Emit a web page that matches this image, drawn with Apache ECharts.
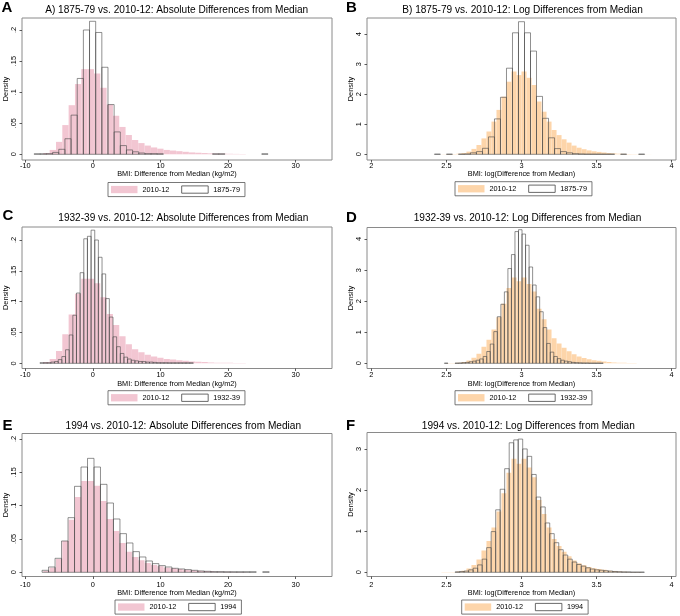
<!DOCTYPE html>
<html>
<head>
<meta charset="utf-8">
<script src="https://cdn.jsdelivr.net/npm/echarts@6/dist/echarts.min.js"></script>
<style>
html, body { margin: 0; padding: 0; background: #fff; }
#main { width: 680px; height: 616px; }
</style>
</head>
<body>
<div id="main"></div>
<script>
// histogram data: first bin left edge, bin width, densities per bin

// 2010-12, absolute differences (same in A, C, E)
var abs2010Start = -7.336, abs2010Width = 0.936;
var abs2010 = [0.002, 0.007, 0.020, 0.047, 0.079, 0.113, 0.137, 0.137, 0.130, 0.107,
  0.080, 0.062, 0.044, 0.031, 0.023, 0.018, 0.014, 0.011, 0.009, 0.007,
  0.006, 0.005, 0.004, 0.003, 0.0025, 0.002, 0.0015, 0.001, 0.001, 0.0008, 0.0006, 0.0005];

// 1875-79, absolute
var abs1875Start = -8.69, abs1875Width = 0.91;
var abs1875 = [0.0008, 0.0008, 0.001, 0.003, 0.008, 0.025, 0.063, 0.122, 0.200, 0.214,
  0.196, 0.140, 0.080, 0.036, 0.014, 0.007, 0.004, 0.002, 0.001, 0.001,
  0.0008, 0, 0, 0, 0, 0, 0, 0, 0, 0.0008, 0.0008, 0, 0, 0, 0, 0, 0, 0.0008];

// 1932-39, absolute
var abs1932Start = -7.83, abs1932Width = 0.54;
var abs1932 = [0.001, 0.001, 0.001, 0.002, 0.003, 0.006, 0.011, 0.022, 0.046, 0.078,
  0.114, 0.147, 0.202, 0.206, 0.216, 0.200, 0.172, 0.145, 0.105, 0.075,
  0.043, 0.027, 0.016, 0.010, 0.007, 0.005, 0.004, 0.003, 0.003, 0.002,
  0.002, 0.0015, 0.001, 0.001, 0.001, 0.0008, 0.0008, 0.0008, 0.0008, 0.0008, 0.0008, 0.0008];

// 1994, absolute
var abs1994Start = -7.52, abs1994Width = 0.96;
var abs1994 = [0.003, 0.008, 0.021, 0.047, 0.082, 0.129, 0.158, 0.171, 0.158, 0.132,
  0.104, 0.080, 0.058, 0.044, 0.031, 0.023, 0.017, 0.013, 0.010, 0.008,
  0.006, 0.005, 0.004, 0.003, 0.002, 0.0015, 0.001, 0.001, 0.0008, 0.0008,
  0.0008, 0.0008, 0.0008, 0, 0.0008];

// 2010-12, log differences (same in B, D, F)
var log2010Start = 2.4667, log2010Width = 1 / 30;
var log2010 = [0.005, 0.01, 0.01, 0.02, 0.04, 0.09, 0.18, 0.31, 0.53, 0.76,
  1.09, 1.48, 1.92, 2.42, 2.76, 2.64, 2.76, 2.55, 2.31, 1.76,
  1.42, 1.09, 0.81, 0.64, 0.50, 0.39, 0.29, 0.22, 0.17, 0.13,
  0.10, 0.08, 0.06, 0.04, 0.03, 0.02, 0.015, 0.01, 0.007, 0.005, 0.003, 0.002];

// 1875-79, log
var log1875Start = 2.42, log1875Width = 0.04;
var log1875 = [0.005, 0, 0.005, 0, 0.005, 0.01, 0.05, 0.09, 0.20, 0.58,
  1.18, 1.90, 2.87, 4.05, 4.42, 4.05, 3.44, 1.93, 1.20, 0.55,
  0.19, 0.09, 0.05, 0.02, 0.01, 0.005, 0.005, 0.005, 0.005, 0.005,
  0, 0.005, 0, 0, 0.005];

// 1932-39, log
var log1932Start = 2.4865, log1932Width = 0.0235;
var log1932 = [0.005, 0, 0, 0.005, 0.01, 0.02, 0.03, 0.05, 0.07, 0.10,
  0.14, 0.22, 0.38, 0.62, 1.02, 1.50, 1.90, 2.30, 3.05, 3.50,
  4.24, 4.30, 4.16, 3.80, 3.10, 2.52, 2.14, 1.66, 1.15, 0.64,
  0.36, 0.22, 0.15, 0.10, 0.07, 0.05, 0.03, 0.02, 0.015, 0.01,
  0.01, 0.005, 0.005, 0.005, 0.005];

// 1994, log
var log1994Start = 2.558, log1994Width = 0.03;
var log1994 = [0.01, 0.02, 0.03, 0.06, 0.10, 0.18, 0.32, 0.60, 0.99, 1.52,
  2.02, 2.52, 3.15, 3.22, 3.24, 3.00, 2.82, 2.38, 1.83, 1.59,
  1.20, 0.94, 0.72, 0.55, 0.42, 0.32, 0.25, 0.19, 0.15, 0.11,
  0.08, 0.06, 0.05, 0.04, 0.03, 0.02, 0.015, 0.01, 0.01, 0.005, 0.005, 0.005];

// tick labels
var absXTicks = [-10, 0, 10, 20, 30];
var logXTicks = [2, 2.5, 3, 3.5, 4];
var absYTicks = [0, 0.05, 0.1, 0.15, 0.2];
var logYTicks = [0, 1, 2, 3, 4];
var logYTicksF = [0, 1, 2, 3];

var FONT = '"Liberation Sans", Arial, Helvetica, sans-serif';
var PINK = '#f2c6d2', ORANGE = '#fdd5aa', LINE = '#474747';

function bins(start, width, heights) {
  return heights.map(function (h, i) {
    return [start + i * width, start + (i + 1) * width, h];
  });
}

function barRenderer(style) {
  return function (params, api) {
    var h = api.value(2);
    if (!h) return null;
    var p0 = api.coord([api.value(0), h]);
    var p1 = api.coord([api.value(1), 0]);
    return {
      type: 'rect',
      shape: { x: p0[0], y: p0[1], width: p1[0] - p0[0], height: p1[1] - p0[1] },
      style: style
    };
  };
}

var panels = [
  { letter: 'A', title: 'A) 1875-79 vs. 2010-12: Absolute Differences from Median', tx: 176.7, ty: 3.8, lx: 1.5, ly: 0.5,
    grid: { left: 22, top: 18, width: 310, height: 142 }, xr: [-10.49, 35.37], yr: [-0.0092, 0.2193],
    xt: absXTicks, yt: absYTicks, xname: 'BMI: Difference from Median (kg/m2)', lm: 2.6, ng: 10,
    fill: PINK, fillData: bins(abs2010Start, abs2010Width, abs2010), other: '1875-79', otherData: bins(abs1875Start, abs1875Width, abs1875),
    leg: { left: 108, top: 182.5 } },
  { letter: 'B', title: 'B) 1875-79 vs. 2010-12: Log Differences from Median', tx: 522.5, ty: 3.8, lx: 346, ly: 0.5,
    grid: { left: 367, top: 18, width: 309, height: 142 }, xr: [1.971, 4.029], yr: [-0.19, 4.543],
    xt: logXTicks, yt: logYTicks, xname: 'BMI: log(Difference from Median)', lm: 2.6, ng: 10,
    fill: ORANGE, fillData: bins(log2010Start, log2010Width, log2010), other: '1875-79', otherData: bins(log1875Start, log1875Width, log1875),
    leg: { left: 455, top: 181.7 } },
  { letter: 'C', title: '1932-39 vs. 2010-12: Absolute Differences from Median', tx: 183.3, ty: 212, lx: 2.5, ly: 208,
    grid: { left: 22, top: 227, width: 310, height: 141.5 }, xr: [-10.49, 35.37], yr: [-0.0084, 0.2211],
    xt: absXTicks, yt: absYTicks, xname: 'BMI: Difference from Median (kg/m2)', lm: 3.4, ng: 11.5,
    fill: PINK, fillData: bins(abs2010Start, abs2010Width, abs2010), other: '1932-39', otherData: bins(abs1932Start, abs1932Width, abs1932),
    leg: { left: 108, top: 390.7 } },
  { letter: 'D', title: '1932-39 vs. 2010-12: Log Differences from Median', tx: 527.5, ty: 212, lx: 346, ly: 210,
    grid: { left: 367, top: 227.5, width: 309, height: 141 }, xr: [1.971, 4.029], yr: [-0.167, 4.371],
    xt: logXTicks, yt: logYTicks, xname: 'BMI: log(Difference from Median)', lm: 3.4, ng: 11.5,
    fill: ORANGE, fillData: bins(log2010Start, log2010Width, log2010), other: '1932-39', otherData: bins(log1932Start, log1932Width, log1932),
    leg: { left: 455, top: 390.7 } },
  { letter: 'E', title: '1994 vs. 2010-12: Absolute Differences from Median', tx: 183.3, ty: 420.5, lx: 2.5, ly: 418,
    grid: { left: 22, top: 433.5, width: 310, height: 143 }, xr: [-10.49, 35.37], yr: [-0.0063, 0.2083],
    xt: absXTicks, yt: absYTicks, xname: 'BMI: Difference from Median (kg/m2)', lm: 4.8, ng: 11.8,
    fill: PINK, fillData: bins(abs2010Start, abs2010Width, abs2010), other: '1994', otherData: bins(abs1994Start, abs1994Width, abs1994),
    leg: { left: 115, top: 600 } },
  { letter: 'F', title: '1994 vs. 2010-12: Log Differences from Median', tx: 528.3, ty: 420.5, lx: 346, ly: 418,
    grid: { left: 367, top: 432.5, width: 309, height: 144 }, xr: [1.971, 4.029], yr: [-0.102, 3.40],
    xt: logXTicks, yt: logYTicksF, xname: 'BMI: log(Difference from Median)', lm: 4.8, ng: 11.8,
    fill: ORANGE, fillData: bins(log2010Start, log2010Width, log2010), other: '1994', otherData: bins(log1994Start, log1994Width, log1994),
    leg: { left: 461.7, top: 600 } }
];

function yFmt(v) {
  return v === 0 ? '0' : String(v).replace(/^0\./, '.');
}

var option = {
  animation: false,
  backgroundColor: '#fff',
  textStyle: { fontFamily: FONT },
  title: [], grid: [], xAxis: [], yAxis: [], series: [], legend: []
};

panels.forEach(function (p, i) {
  option.title.push({
    text: p.letter, left: p.lx, top: p.ly, padding: 0,
    textStyle: { fontFamily: FONT, fontSize: 15, fontWeight: 'bold', color: '#000', lineHeight: 15 }
  });
  option.title.push({
    text: p.title, left: p.tx, top: p.ty, padding: 0, textAlign: 'center',
    textStyle: { fontFamily: FONT, fontSize: 10.1, fontWeight: 'normal', color: '#000', lineHeight: 12 }
  });
  option.grid.push({
    left: p.grid.left, top: p.grid.top, width: p.grid.width, height: p.grid.height,
    show: true, borderColor: '#8a8a8a', borderWidth: 1, backgroundColor: '#fff'
  });
  option.xAxis.push({
    gridIndex: i, type: 'value', min: p.xr[0], max: p.xr[1], position: 'bottom',
    axisLine: { show: false, onZero: false }, splitLine: { show: false },
    axisTick: { show: true, length: 2.5, customValues: p.xt, lineStyle: { color: '#333', width: 0.8 } },
    axisLabel: { customValues: p.xt, fontSize: 7.4, color: '#000', margin: p.lm, fontFamily: FONT },
    name: p.xname, nameLocation: 'middle', nameGap: p.ng,
    nameTextStyle: { fontSize: 7.3, color: '#000', fontFamily: FONT }
  });
  option.yAxis.push({
    gridIndex: i, type: 'value', min: p.yr[0], max: p.yr[1], position: 'left',
    axisLine: { show: false, onZero: false }, splitLine: { show: false },
    axisTick: { show: true, length: 2.5, customValues: p.yt, lineStyle: { color: '#333', width: 0.8 } },
    axisLabel: { customValues: p.yt, rotate: 90, fontSize: 7.4, color: '#000', margin: 5, formatter: yFmt, fontFamily: FONT },
    name: 'Density', nameLocation: 'middle', nameRotate: 90, nameGap: 12.5,
    nameTextStyle: { fontSize: 7.3, color: '#000', fontFamily: FONT }
  });
  option.series.push({
    type: 'custom', name: '2010-12', xAxisIndex: i, yAxisIndex: i, clip: true,
    renderItem: barRenderer({ fill: p.fill }),
    itemStyle: { color: p.fill },
    encode: { x: [0, 1], y: 2 },
    data: p.fillData
  });
  option.series.push({
    type: 'custom', name: p.other, xAxisIndex: i, yAxisIndex: i, clip: true,
    renderItem: barRenderer({ fill: 'none', stroke: LINE, lineWidth: 0.6 }),
    itemStyle: { color: '#fff', borderColor: LINE, borderWidth: 0.8 },
    encode: { x: [0, 1], y: 2 },
    data: p.otherData
  });
  option.legend.push({
    left: p.leg.left, top: p.leg.top, orient: 'horizontal',
    selectedMode: false, icon: 'rect', itemWidth: 26.5, itemHeight: 7.3, itemGap: 12,
    padding: [3, 5, 3, 3], borderColor: '#555', borderWidth: 0.8,
    textStyle: { fontSize: 7.3, color: '#000', fontFamily: FONT },
    data: [
      { name: '2010-12', itemStyle: { color: p.fill, borderWidth: 0 } },
      { name: p.other, itemStyle: { color: '#fff', borderColor: '#444', borderWidth: 0.8 } }
    ]
  });
});

var chart = echarts.init(document.getElementById('main'), null, { renderer: 'canvas' });
chart.setOption(option);
</script>
</body>
</html>
